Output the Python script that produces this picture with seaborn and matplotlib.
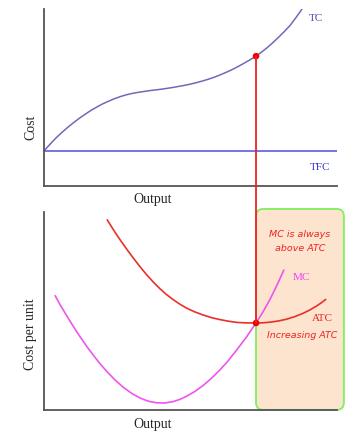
import matplotlib
matplotlib.use("Agg")
import matplotlib.pyplot as plt
from matplotlib.patches import FancyBboxPatch, ConnectionPatch
import seaborn as sns
import pandas as pd

# output (0-10) vs cost
tc_q = [0, 0.2, 0.4, 0.6, 0.8, 1.0, 1.2, 1.4, 1.6, 1.8, 2.0, 2.2, 2.4, 2.6, 2.8, 3.0, 3.2, 3.4, 3.6, 3.8, 4.0,
        4.2, 4.4, 4.6, 4.8, 5.0, 5.2, 5.4, 5.6, 5.8, 6.0, 6.2, 6.4, 6.6, 6.8, 7.02, 7.24, 7.42, 7.6, 7.8,
        8.0, 8.2, 8.4, 8.6, 8.81]
tc_c = [19.8, 23.5, 27.0, 30.1, 33.0, 35.7, 38.2, 40.5, 42.7, 44.6, 46.4, 47.9, 49.3, 50.5, 51.5, 52.3, 52.9,
        53.4, 53.9, 54.3, 54.7, 55.2, 55.7, 56.3, 56.9, 57.6, 58.4, 59.3, 60.3, 61.4, 62.7, 64.1, 65.6,
        67.3, 69.1, 71.2, 73.4, 75.6, 77.9, 80.8, 83.9, 87.2, 90.7, 95.1, 100]
tfc_q = [0, 10]
tfc_c = [19.8, 19.8]

atc_q = [2.16, 2.37, 2.59, 2.82, 3.05, 3.28, 3.51, 3.73, 3.96, 4.18, 4.41, 4.64, 4.87, 5.15, 5.44, 5.72,
         6.01, 6.3, 6.58, 6.9, 7.24, 7.48, 7.71, 8.0, 8.28, 8.56, 8.85, 9.08, 9.31, 9.47, 9.62]
atc_c = [96.0, 91.0, 86.1, 81.3, 76.7, 72.3, 68.2, 64.6, 61.2, 58.3, 55.7, 53.4, 51.4, 49.5, 47.9, 46.6,
         45.6, 44.8, 44.2, 43.95, 43.9, 44.0, 44.3, 44.9, 45.8, 47.1, 48.8, 50.5, 52.5, 54.1, 55.8]
mc_q = [0.38, 0.57, 0.77, 1.0, 1.23, 1.45, 1.68, 1.91, 2.14, 2.42, 2.71, 3.0, 3.28, 3.56, 3.85, 4.13, 4.41,
        4.64, 4.87, 5.15, 5.44, 5.72, 6.01, 6.3, 6.58, 6.9, 7.24, 7.47, 7.71, 7.95, 8.19]
mc_c = [57.7, 52.6, 47.7, 42.2, 37.0, 32.3, 27.7, 23.4, 19.5, 15.2, 11.4, 8.3, 6.0, 4.4, 3.6, 3.5, 4.2,
        5.3, 6.9, 9.3, 12.4, 16.0, 20.2, 25.0, 30.3, 36.5, 43.9, 49.3, 55.6, 62.8, 70.6]

q_star = 7.24
tc_star = 73.4
atc_star = 43.9

sns.set_style("white")
plt.rcParams['font.family'] = ['Liberation Serif', 'DejaVu Serif']

fig = plt.figure(figsize=(3.62, 4.39), dpi=100)
ax1 = fig.add_axes([0.1215, 0.574, 0.809, 0.403])
ax2 = fig.add_axes([0.1215, 0.064, 0.809, 0.451])

for ax in (ax1, ax2):
    ax.set_xlim(0, 10)
    ax.set_ylim(0, 100)
    ax.set_xticks([])
    ax.set_yticks([])
    sns.despine(ax=ax)
    for s in ("left", "bottom"):
        ax.spines[s].set_color("#555555")
        ax.spines[s].set_linewidth(1.3)

# top panel
sns.lineplot(x=tc_q, y=tc_c, ax=ax1, color="#7068bb", lw=1.1)
sns.lineplot(x=tfc_q, y=tfc_c, ax=ax1, color="#4f4fdd", lw=1.1)
ax1.text(9.28, 95.5, "TC", color="#4848b0", fontsize=8, ha="center", va="center")
ax1.text(9.42, 11.3, "TFC", color="#3535d0", fontsize=8, ha="center", va="center")
ax1.text(-0.045, 0.34, "Cost", transform=ax1.transAxes, rotation=90, fontsize=10,
         ha="center", va="center")
ax1.text(0.372, -0.073, "Output", transform=ax1.transAxes, fontsize=10,
         ha="center", va="center")

# bottom panel
box = FancyBboxPatch((q_star, 0), 3.0, 101.5,
                     boxstyle="round,pad=0,rounding_size=0.25", mutation_aspect=14.8,
                     facecolor="#fde4cf", edgecolor="#88ee66", lw=1.4,
                     clip_on=False, zorder=1)
ax2.add_patch(box)
sns.lineplot(x=atc_q, y=atc_c, ax=ax2, color="#e8302a", lw=1.2, zorder=3)
sns.lineplot(x=mc_q, y=mc_c, ax=ax2, color="#ee55ee", lw=1.2, zorder=3)

con = ConnectionPatch(xyA=(q_star, tc_star), coordsA=ax1.transData,
                      xyB=(q_star, atc_star), coordsB=ax2.transData,
                      color="#ee2222", lw=1.3, zorder=4)
fig.add_artist(con)

dots1 = pd.DataFrame({"q": [q_star], "c": [tc_star]})
dots2 = pd.DataFrame({"q": [q_star], "c": [atc_star]})
sns.scatterplot(data=dots1, x="q", y="c", ax=ax1, color="#ee0000", s=22,
                edgecolor="none", zorder=5, clip_on=False)
sns.scatterplot(data=dots2, x="q", y="c", ax=ax2, color="#ee0000", s=22,
                edgecolor="none", zorder=5)
ax1.set_xlabel("")
ax1.set_ylabel("")
ax2.set_xlabel("")
ax2.set_ylabel("")

sans = ["DejaVu Sans"]
ax2.text(8.74, 88.9, "MC is always", color="#ee2222", fontsize=6.8, style="italic",
         family=sans, ha="center", va="center", zorder=6)
ax2.text(8.74, 81.8, "above ATC", color="#ee2222", fontsize=6.8, style="italic",
         family=sans, ha="center", va="center", zorder=6)
ax2.text(8.8, 67.2, "MC", color="#ee44ee", fontsize=8, ha="center", va="center", zorder=6)
ax2.text(9.49, 46.5, "ATC", color="#ee2222", fontsize=8, ha="center", va="center", zorder=6)
ax2.text(8.8, 37.9, "Increasing ATC", color="#ee2222", fontsize=6.8, style="italic",
         family=sans, ha="center", va="center", zorder=6)
ax2.text(-0.045, 0.39, "Cost per unit", transform=ax2.transAxes, rotation=90,
         fontsize=10, ha="center", va="center")
ax2.text(0.372, -0.071, "Output", transform=ax2.transAxes, fontsize=10,
         ha="center", va="center")

fig.savefig("out.png", dpi=100)
